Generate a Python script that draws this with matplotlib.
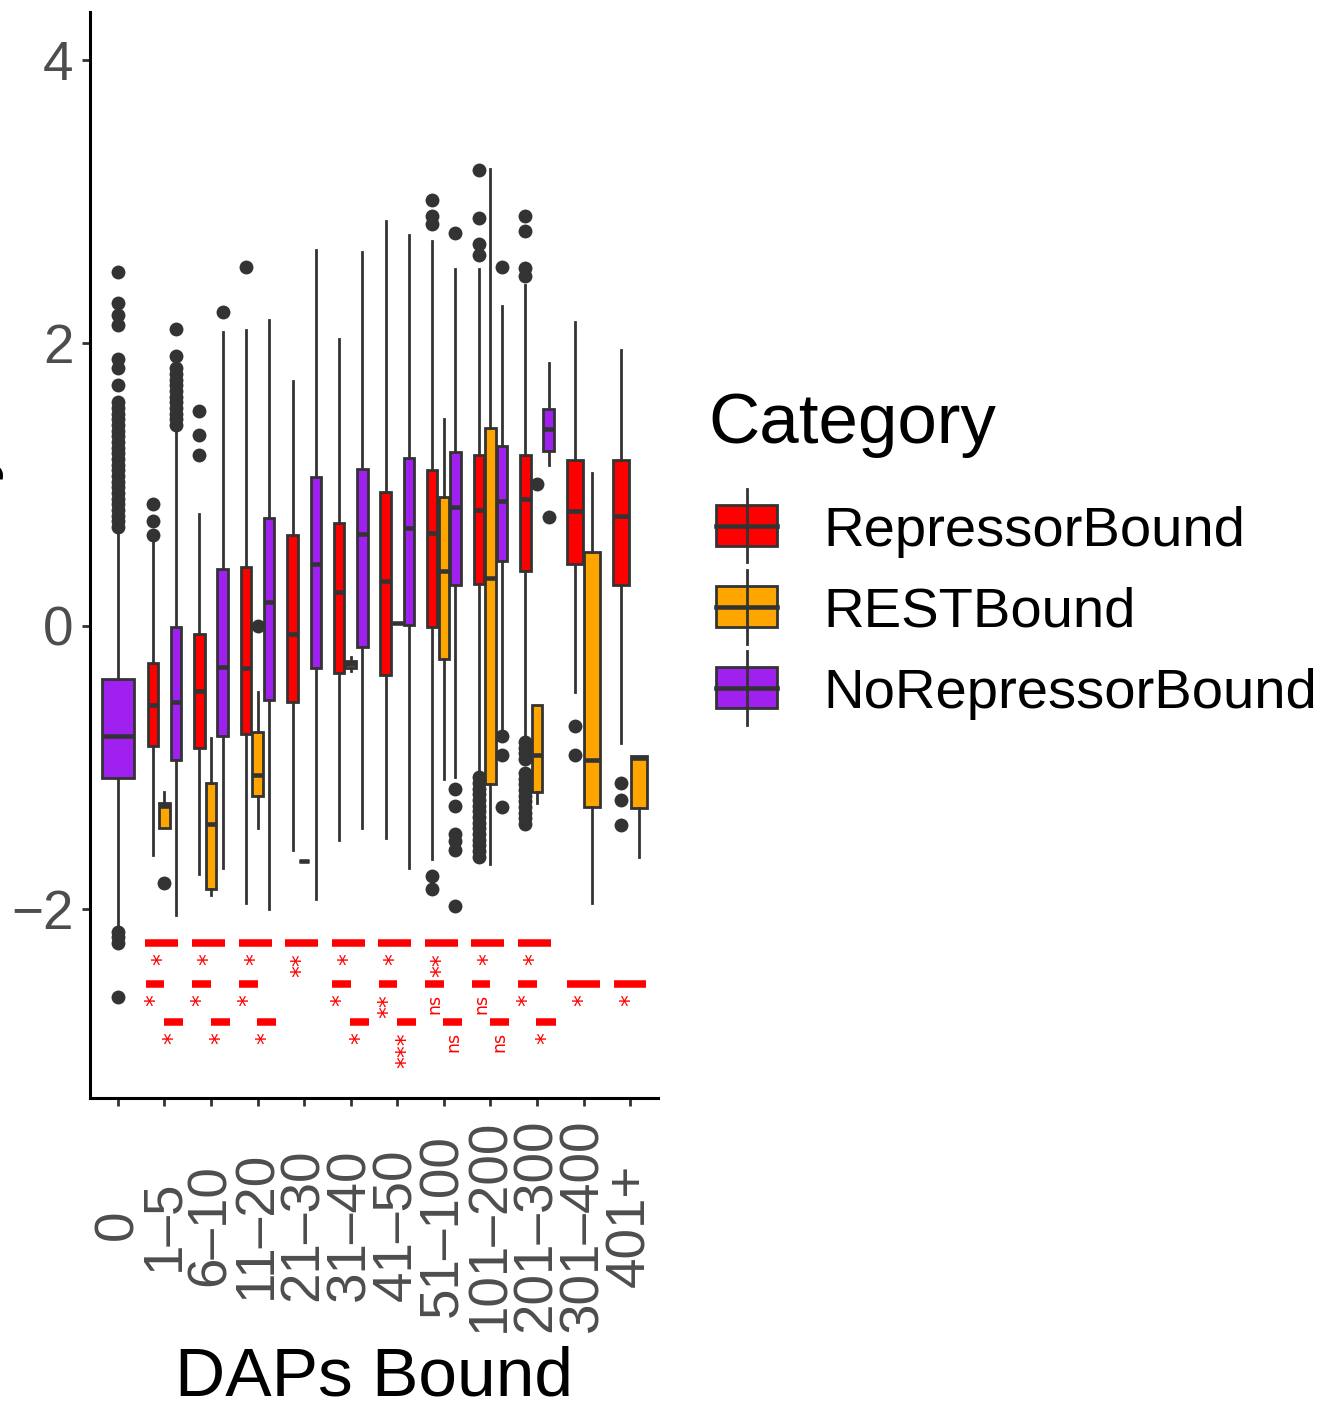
import matplotlib
matplotlib.use("Agg")
import matplotlib.pyplot as plt
import matplotlib.patches as mpatches
import matplotlib.lines as mlines

plt.rcParams['font.family'] = ['Liberation Sans', 'DejaVu Sans']

W, H = 1327, 1401

categories = ["0", "1–5", "6–10", "11–20", "21–30", "31–40", "41–50",
              "51–100", "101–200", "201–300", "301–400", "401+"]
groups = ["RepressorBound", "RESTBound", "NoRepressorBound"]
colors = {"RepressorBound": "#FF0000", "RESTBound": "#FFA500", "NoRepressorBound": "#A020F0"}

# (whisker low, q1, median, q3, whisker high) per category, None = no data
red_stats = [None,
             (-1.62, -0.85, -0.56, -0.26, 0.59),
             (-1.75, -0.86, -0.46, -0.06, 0.79),
             (-1.96, -0.76, -0.30, 0.42, 2.09),
             (-1.58, -0.54, -0.06, 0.64, 1.73),
             (-1.51, -0.33, 0.24, 0.73, 2.03),
             (-1.50, -0.35, 0.32, 0.95, 2.86),
             (-1.65, -0.01, 0.66, 1.10, 2.72),
             (-1.03, 0.30, 0.82, 1.21, 2.52),
             (-0.78, 0.39, 0.90, 1.21, 2.41),
             (-0.47, 0.44, 0.81, 1.17, 2.15),
             (-0.83, 0.29, 0.78, 1.17, 1.95)]
orange_stats = [None,
                (-1.43, -1.43, -1.27, -1.25, -1.17),
                (-1.90, -1.86, -1.40, -1.11, -0.79),
                (-1.43, -1.20, -1.05, -0.75, -0.47),
                (-1.66, -1.66, -1.66, -1.66, -1.66),
                (-0.32, -0.30, -0.27, -0.25, -0.22),
                (0.02, 0.02, 0.02, 0.02, 0.02),
                (-1.08, -0.23, 0.39, 0.91, 1.46),
                (-1.68, -1.12, 0.34, 1.40, 3.23),
                (-1.25, -1.17, -0.91, -0.56, -0.56),
                (-1.96, -1.28, -0.95, 0.52, 1.08),
                (-1.63, -1.29, -0.93, -0.92, -0.92)]
purple_stats = [(-2.11, -1.075, -0.78, -0.375, 0.67),
                (-2.04, -0.95, -0.54, -0.01, 1.38),
                (-1.71, -0.78, -0.29, 0.40, 2.08),
                (-2.00, -0.52, 0.17, 0.76, 2.16),
                (-1.93, -0.30, 0.44, 1.05, 2.66),
                (-1.43, -0.15, 0.65, 1.11, 2.64),
                (-1.71, 0.01, 0.69, 1.19, 2.76),
                (-1.07, 0.29, 0.84, 1.23, 2.52),
                (-0.75, 0.46, 0.88, 1.27, 2.26),
                (1.14, 1.24, 1.39, 1.53, 1.86),
                None,
                None]

red_out = [[],
           [0.64, 0.74, 0.86],
           [1.21, 1.35, 1.52],
           [2.54],
           [], [], [],
           [-1.86, -1.77, 2.84, 2.90, 3.01],
           [-1.07, -1.11, -1.15, -1.19, -1.23, -1.27, -1.31, -1.35, -1.39, -1.43,
            -1.47, -1.51, -1.55, -1.59, -1.63, 2.62, 2.70, 2.88, 3.22],
           [-0.82, -0.86, -0.90, -0.94, -1.04, -1.08, -1.12, -1.16, -1.20, -1.24,
            -1.28, -1.32, -1.36, -1.40, 2.47, 2.53, 2.79, 2.90],
           [-0.91, -0.71],
           [-1.41, -1.23, -1.11]]
orange_out = [[], [-1.82], [], [0.0], [], [], [], [], [], [1.00], [], []]
purple_out = [[-2.62, -2.24, -2.20, -2.16,
               0.70, 0.74, 0.78, 0.82, 0.86, 0.90, 0.94, 0.98, 1.02, 1.06, 1.10, 1.14,
               1.18, 1.22, 1.26, 1.30, 1.34, 1.38, 1.42, 1.46, 1.50, 1.54, 1.58,
               1.70, 1.82, 1.89, 2.13, 2.20, 2.28, 2.50],
              [1.42, 1.46, 1.50, 1.54, 1.58, 1.62, 1.66, 1.70, 1.74, 1.78, 1.82, 1.91, 2.10],
              [2.22],
              [], [], [], [],
              [-1.98, -1.58, -1.52, -1.47, -1.27, -1.15, 2.78],
              [-1.28, -0.91, -0.78, 2.54],
              [0.77],
              [], []]

stats = {"RepressorBound": red_stats, "RESTBound": orange_stats, "NoRepressorBound": purple_stats}
outs = {"RepressorBound": red_out, "RESTBound": orange_out, "NoRepressorBound": purple_out}

# significance labels: (category index, label)
sig_red_purple = [(1, "*"), (2, "*"), (3, "*"), (4, "**"), (5, "*"), (6, "*"),
                  (7, "**"), (8, "*"), (9, "*")]
sig_red_orange = [(1, "*"), (2, "*"), (3, "*"), (5, "*"), (6, "**"), (7, "ns"),
                  (8, "ns"), (9, "*"), (10, "*"), (11, "*")]
sig_orange_purple = [(1, "*"), (2, "*"), (3, "*"), (5, "*"), (6, "***"), (7, "ns"),
                     (8, "ns"), (9, "*")]

fig = plt.figure(figsize=(W / 100, H / 100), dpi=100)
ax = fig.add_axes([90 / W, 1 - 1098 / H, (658 - 90) / W, (1098 - 12) / H])

edge = "#333333"
for i in range(len(categories)):
    present = [g for g in groups if stats[g][i] is not None]
    n = len(present)
    slot = 0.75 / n
    for k, g in enumerate(present):
        lo, q1, med, q3, hi = stats[g][i]
        pos = i - 0.375 + slot * (k + 0.5)
        bx = [dict(whislo=lo, q1=q1, med=med, q3=q3, whishi=hi, fliers=outs[g][i])]
        ax.bxp(bx, positions=[pos], widths=[slot * 0.9], patch_artist=True,
               showcaps=False, manage_ticks=False,
               boxprops=dict(facecolor=colors[g], edgecolor=edge, linewidth=2.0),
               medianprops=dict(color=edge, linewidth=3.3, solid_capstyle='butt'),
               whiskerprops=dict(color=edge, linewidth=2.0),
               flierprops=dict(marker='o', markerfacecolor=edge, markeredgecolor='none',
                               markersize=10))

# significance bars
rows = [(sig_red_purple, -2.24, (-0.41, 0.30)),
        (sig_red_orange, -2.53, (-0.40, 0.0)),
        (sig_orange_purple, -2.80, (-0.01, 0.40))]
for sigs, yv, (a, b) in rows:
    for i, lab in sigs:
        if stats["NoRepressorBound"][i] is None:
            a2, b2 = -0.35, 0.35
        else:
            a2, b2 = a, b
        ax.plot([i + a2, i + b2], [yv, yv], color="#FF0000", linewidth=5.4,
                solid_capstyle='butt')
        fs = 12.5 if lab == "ns" else 17
        ax.text(i + (a2 + b2) / 2, yv - 0.07, lab, rotation=90, ha='center', va='top',
                color="#FF0000", fontsize=fs, family='DejaVu Sans')

ax.set_xlim(-0.6, 11.6)
ax.set_ylim(-3.336, 4.339)
ax.set_yticks([-2, 0, 2, 4])
ax.set_xticks(range(len(categories)))
ax.set_xticklabels(categories, rotation=90, va='center', ha='center')
for s in ["top", "right"]:
    ax.spines[s].set_visible(False)
for s in ["left", "bottom"]:
    ax.spines[s].set_linewidth(2.2)
    ax.spines[s].set_color("black")
ax.tick_params(axis='both', colors=edge, width=2.0, length=5.5, labelsize=39.5,
               labelcolor="#4D4D4D")
ax.tick_params(axis='x', pad=86)
ax.tick_params(axis='y', pad=6.5)

fig.text(374 / W, 1 - 1395 / H, "DAPs Bound", ha='center', va='baseline', fontsize=50)
fig.text(4 / W, 1 - 555 / H, "Activity", rotation=90, ha='right', va='center', fontsize=50)

# legend
fig.text(708 / W, 1 - 443 / H, "Category", va='baseline', fontsize=51)
for k, g in enumerate(groups):
    cy = 525.5 + 81 * k
    fig.add_artist(mlines.Line2D([746.5 / W, 746.5 / W], [1 - (cy - 37) / H, 1 - (cy + 37) / H],
                                 color=edge, linewidth=2.0, transform=fig.transFigure))
    fig.add_artist(mpatches.Rectangle((716 / W, 1 - (cy + 20.5) / H), 61 / W, 41 / H,
                                      facecolor=colors[g], edgecolor=edge, linewidth=2.0,
                                      transform=fig.transFigure))
    fig.add_artist(mlines.Line2D([716 / W, 777 / W], [1 - cy / H, 1 - cy / H],
                                 color=edge, linewidth=3.3, transform=fig.transFigure))
    fig.text(823 / W, 1 - (cy + 20) / H, g, va='baseline', fontsize=40.5)

fig.savefig("out.png", dpi=100)
